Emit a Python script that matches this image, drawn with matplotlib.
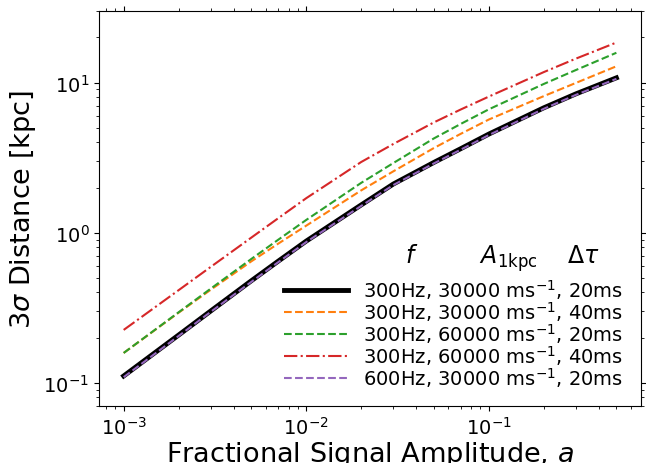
import numpy as np
import matplotlib
matplotlib.use("Agg")
import matplotlib.pyplot as plt

# fractional signal amplitude grid
amp = [0.001, 0.002, 0.003, 0.005, 0.007, 0.01, 0.02, 0.03, 0.05, 0.07, 0.1, 0.2, 0.3, 0.5]

# 3 sigma distance [kpc]
d_300_30k_20 = [0.111, 0.208, 0.301, 0.478, 0.644, 0.879, 1.531, 2.110, 2.938, 3.622, 4.539, 6.792, 8.414, 10.76]
d_300_30k_40 = [0.158, 0.293, 0.417, 0.644, 0.843, 1.114, 1.914, 2.564, 3.664, 4.550, 5.675, 8.128, 9.954, 12.85]
d_300_60k_20 = [0.158, 0.295, 0.424, 0.668, 0.895, 1.216, 2.148, 2.911, 4.246, 5.297, 6.637, 9.795, 12.13, 15.81]
d_300_60k_40 = [0.225, 0.414, 0.592, 0.927, 1.245, 1.698, 2.958, 3.900, 5.430, 6.610, 8.070, 11.75, 14.45, 18.50]
d_600_30k_20 = [0.109, 0.205, 0.297, 0.470, 0.634, 0.866, 1.508, 2.078, 2.894, 3.568, 4.471, 6.690, 8.288, 10.60]

labels = [r"300Hz, 30000 ms$^{-1}$, 20ms",
          r"300Hz, 30000 ms$^{-1}$, 40ms",
          r"300Hz, 60000 ms$^{-1}$, 20ms",
          r"300Hz, 60000 ms$^{-1}$, 40ms",
          r"600Hz, 30000 ms$^{-1}$, 20ms"]
header = r"$f$         $A_{\rm 1kpc}$    $\Delta\tau$"

fig = plt.figure(figsize=(6.46, 4.64), dpi=100)
ax = fig.add_axes([0.1533, 0.1228, 0.839, 0.8513])

ax.plot(amp, d_300_30k_20, color="k", lw=3.5, ls="-", label=labels[0])
ax.plot(amp, d_300_30k_40, color="C1", lw=1.5, ls="--", label=labels[1])
ax.plot(amp, d_300_60k_20, color="C2", lw=1.5, ls="--", label=labels[2])
ax.plot(amp, d_300_60k_40, color="C3", lw=1.5, ls="-.", label=labels[3])
ax.plot(amp, d_600_30k_20, color="C4", lw=1.5, ls="--", label=labels[4])

ax.set_xscale("log")
ax.set_yscale("log")
ax.set_ylim(0.07, 30)

ax.set_xlabel(r"Fractional Signal Amplitude, $a$", fontsize=19.5, labelpad=1)
ax.set_ylabel(r"3$\sigma$ Distance [kpc]", fontsize=19.5)
ax.tick_params(which="both", top=True, right=True, labelsize=14)

leg = ax.legend(loc="lower right", frameon=False, fontsize=14, handlelength=3.3,
                labelspacing=-0.1)
# column header above the legend entries
ax.text(0.924, 0.377, header, transform=ax.transAxes, fontsize=17,
        ha="right", va="center")

fig.savefig("out.png", dpi=100)
